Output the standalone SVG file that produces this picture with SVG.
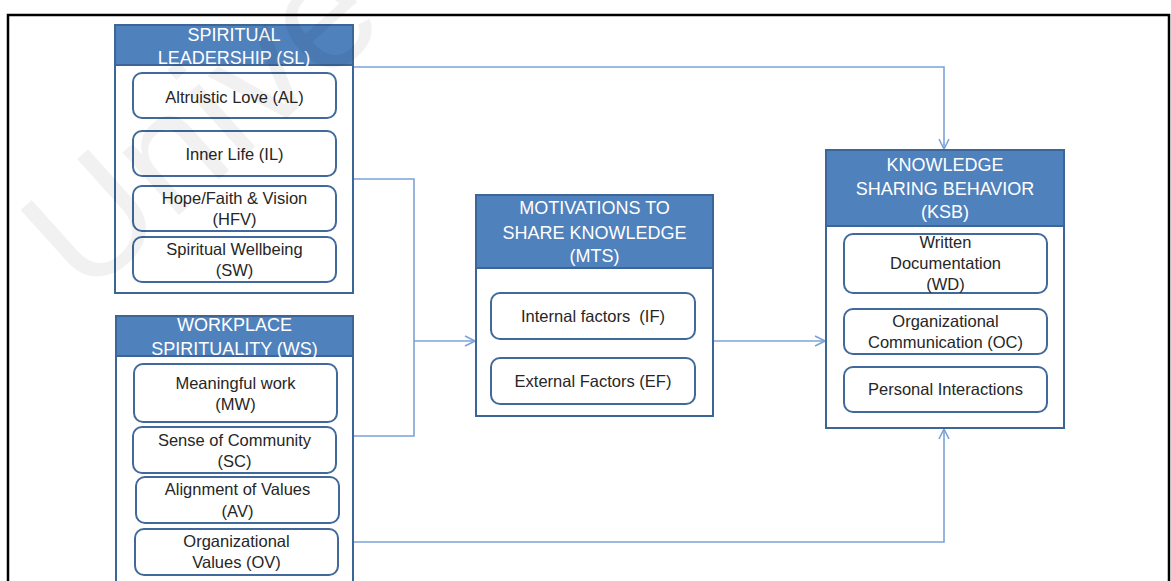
<svg xmlns="http://www.w3.org/2000/svg" width="1171" height="581" viewBox="0 0 1171 581">
  <style>
    .frame { fill: none; stroke: #000; stroke-width: 2.5; }
    .outer { fill: #fff; stroke: #3c6598; stroke-width: 2; }
    .head { fill: #4f81bd; stroke: #3c6598; stroke-width: 2; }
    .inner { fill: #fff; stroke: #41699c; stroke-width: 2; }
    .ht { font-family: "Liberation Sans", Arial, sans-serif; font-size: 18px; fill: #fff; text-anchor: middle; }
    .it { font-family: "Liberation Sans", Arial, sans-serif; font-size: 16.5px; fill: #262626; text-anchor: middle; white-space: pre; }
    .conn { fill: none; stroke: #7ba3d8; stroke-width: 1.6; }
    .wm { font-family: "Liberation Sans", Arial, sans-serif; font-size: 160px; fill: #000; fill-opacity: 0.055; }
  </style>
  <defs>
    <marker id="arr" viewBox="0 0 12 12" refX="11" refY="6" markerWidth="12" markerHeight="12" markerUnits="userSpaceOnUse" orient="auto">
      <path d="M1,1 L11,6 L1,11" fill="none" stroke="#7ba3d8" stroke-width="1.6"/>
    </marker>
  </defs>
  <rect width="1171" height="581" fill="#fff"/>
  <rect class="frame" x="8" y="15" width="1161" height="580"/>

  <g id="connectors">
    <path class="conn" d="M353,67 H944 V149" marker-end="url(#arr)"/>
    <path class="conn" d="M353,179 H414 V436 H353"/>
    <path class="conn" d="M414,341 H475" marker-end="url(#arr)"/>
    <path class="conn" d="M713,341 H825" marker-end="url(#arr)"/>
    <path class="conn" d="M353,542 H944 V429" marker-end="url(#arr)"/>
  </g>

  <g id="SL">
    <rect class="outer" x="115" y="25" width="238" height="268"/>
    <rect class="head" x="115" y="25" width="238" height="40"/>
    <text class="ht" x="234" y="41">SPIRITUAL</text>
    <text class="ht" x="234" y="64">LEADERSHIP (SL)</text>
  </g>
  <g id="AL">
    <rect class="inner" x="133" y="73" width="203" height="45" rx="9"/>
    <text class="it" x="234.5" y="103">Altruistic Love (AL)</text>
  </g>
  <g id="IL">
    <rect class="inner" x="133" y="131" width="203" height="45" rx="9"/>
    <text class="it" x="234.5" y="160">Inner Life (IL)</text>
  </g>
  <g id="HFV">
    <rect class="inner" x="133" y="186" width="203" height="45" rx="9"/>
    <text class="it" x="234.5" y="204">Hope/Faith &amp; Vision</text>
    <text class="it" x="234.5" y="225">(HFV)</text>
  </g>
  <g id="SW">
    <rect class="inner" x="133" y="237" width="203" height="45" rx="9"/>
    <text class="it" x="234.5" y="255">Spiritual Wellbeing</text>
    <text class="it" x="234.5" y="276">(SW)</text>
  </g>

  <g id="WS">
    <rect class="outer" x="116" y="316" width="237" height="280"/>
    <rect class="head" x="116" y="316" width="237" height="40"/>
    <text class="ht" x="234.5" y="331">WORKPLACE</text>
    <text class="ht" x="234.5" y="355">SPIRITUALITY (WS)</text>
  </g>
  <g id="MW">
    <rect class="inner" x="134" y="364" width="203" height="58" rx="9"/>
    <text class="it" x="235.5" y="389">Meaningful work</text>
    <text class="it" x="235.5" y="410">(MW)</text>
  </g>
  <g id="SC">
    <rect class="inner" x="133" y="427" width="203" height="46" rx="9"/>
    <text class="it" x="234.5" y="446">Sense of Community</text>
    <text class="it" x="234.5" y="467">(SC)</text>
  </g>
  <g id="AV">
    <rect class="inner" x="136" y="477" width="203" height="46" rx="9"/>
    <text class="it" x="237.5" y="495">Alignment of Values</text>
    <text class="it" x="237.5" y="517">(AV)</text>
  </g>
  <g id="OV">
    <rect class="inner" x="135" y="529" width="203" height="46" rx="9"/>
    <text class="it" x="236.5" y="547">Organizational</text>
    <text class="it" x="236.5" y="568">Values (OV)</text>
  </g>

  <g id="MTS">
    <rect class="outer" x="476" y="195" width="237" height="221"/>
    <rect class="head" x="476" y="195" width="237" height="73"/>
    <text class="ht" x="594.5" y="214">MOTIVATIONS TO</text>
    <text class="ht" x="594.5" y="239">SHARE KNOWLEDGE</text>
    <text class="ht" x="594.5" y="262">(MTS)</text>
  </g>
  <g id="IF">
    <rect class="inner" x="491" y="293" width="204" height="46" rx="9"/>
    <text class="it" x="593" y="322">Internal factors  (IF)</text>
  </g>
  <g id="EF">
    <rect class="inner" x="491" y="358" width="204" height="46" rx="9"/>
    <text class="it" x="593" y="387">External Factors (EF)</text>
  </g>

  <g id="KSB">
    <rect class="outer" x="826" y="150" width="238" height="278"/>
    <rect class="head" x="826" y="150" width="238" height="76"/>
    <text class="ht" x="945" y="171">KNOWLEDGE</text>
    <text class="ht" x="945" y="195">SHARING BEHAVIOR</text>
    <text class="ht" x="945" y="218">(KSB)</text>
  </g>
  <g id="WD">
    <rect class="inner" x="844" y="234" width="203" height="59" rx="9"/>
    <text class="it" x="945.5" y="248">Written</text>
    <text class="it" x="945.5" y="269">Documentation</text>
    <text class="it" x="945.5" y="290">(WD)</text>
  </g>
  <g id="OC">
    <rect class="inner" x="844" y="309" width="203" height="45" rx="9"/>
    <text class="it" x="945.5" y="327">Organizational</text>
    <text class="it" x="945.5" y="348">Communication (OC)</text>
  </g>
  <g id="PI">
    <rect class="inner" x="844" y="367" width="203" height="45" rx="9"/>
    <text class="it" x="945.5" y="395">Personal Interactions</text>
  </g>

  <text class="wm" x="85" y="300" transform="rotate(-42 85 300)">Unive</text>
</svg>
